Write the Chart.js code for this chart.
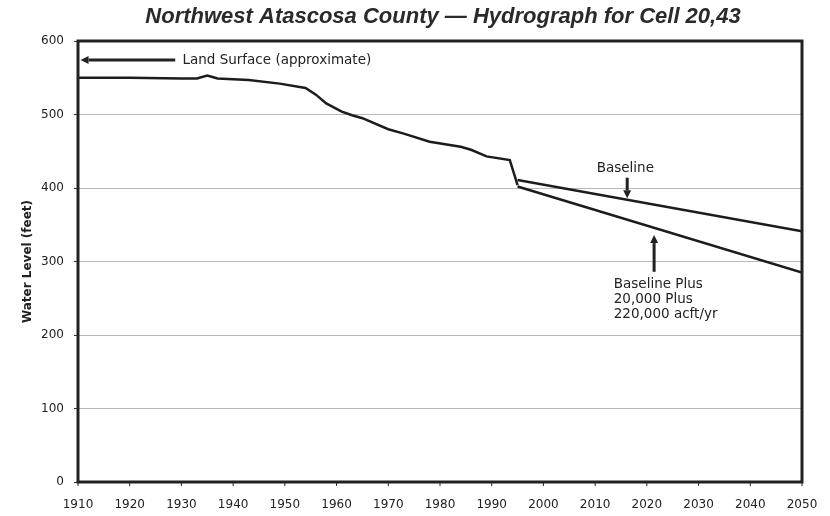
<!DOCTYPE html>
<html>
<head>
<meta charset="utf-8">
<script src="https://cdn.jsdelivr.net/npm/chart.js@4.4.1/dist/chart.umd.min.js"></script>
<style>
  html, body { margin: 0; padding: 0; background: #fff; }
  #wrap { width: 830px; height: 516px; }
</style>
</head>
<body>
<div id="wrap"><canvas id="hydro"></canvas></div>
<script>
// historical simulated water level
const histYears  = [1910, 1920, 1930, 1933, 1935, 1937, 1943, 1949, 1954, 1956, 1958, 1961, 1963, 1965, 1970, 1973, 1978, 1984, 1986, 1989, 1993.5, 1995];
const histLevels = [550, 550, 549, 549, 553, 549, 547, 542, 536, 527, 515, 504, 499, 495, 480, 474, 463, 456, 452, 443, 438, 404];

// projections
const futureYears  = [1995, 2050];
const baseline     = [411, 341];
const baselinePlus = [402, 285];

const yTicks = [0, 100, 200, 300, 400, 500, 600];
const xTicks = [1910, 1920, 1930, 1940, 1950, 1960, 1970, 1980, 1990, 2000, 2010, 2020, 2030, 2040, 2050];

const titleText = 'Northwest Atascosa County \u2014 Hydrograph for Cell 20,43';

const toPts = (xs, ys) => xs.map((x, i) => ({ x: x, y: ys[i] }));

// notes drawn over the plot, placed in data units
const notes = [
    { text: ['Land Surface (approximate)'], x: 1930.2, y: 574, arrow: [1928.8, 574, 1910.5, 574] },
    { text: ['Baseline'], x: 2010.3, y: 427, arrow: [2016.2, 414, 2016.2, 386] },
    { text: ['Baseline Plus', '20,000 Plus', '220,000 acft/yr'], x: 2013.6, y: 269, arrow: [2021.4, 286, 2021.4, 336] }
];

function arrow(ctx, x1, y1, x2, y2) {
    const a = Math.atan2(y2 - y1, x2 - x1);
    const hl = 8, hw = 4;
    ctx.beginPath();
    ctx.moveTo(x1, y1);
    ctx.lineTo(x2 - Math.cos(a) * hl, y2 - Math.sin(a) * hl);
    ctx.stroke();
    ctx.beginPath();
    ctx.moveTo(x2, y2);
    ctx.lineTo(x2 - Math.cos(a) * hl - Math.sin(a) * hw, y2 - Math.sin(a) * hl + Math.cos(a) * hw);
    ctx.lineTo(x2 - Math.cos(a) * hl + Math.sin(a) * hw, y2 - Math.sin(a) * hl - Math.cos(a) * hw);
    ctx.closePath();
    ctx.fill();
}

const extras = {
    id: 'extras',
    afterDatasetsDraw(chart) {
        const ctx = chart.ctx;
        const xs = chart.scales.x, ys = chart.scales.y;
        const a = chart.chartArea;
        ctx.save();
        ctx.strokeStyle = '#222';
        ctx.fillStyle = '#222';
        ctx.lineWidth = 3;
        ctx.strokeRect(a.left, a.top, a.right - a.left, a.bottom - a.top);

        // x tick marks on the bottom axis
        ctx.lineWidth = 1;
        xTicks.forEach(v => {
            const px = xs.getPixelForValue(v);
            ctx.beginPath();
            ctx.moveTo(px, a.bottom);
            ctx.lineTo(px, a.bottom + 4);
            ctx.stroke();
        });

        // title
        ctx.font = 'italic bold 22px "Liberation Sans", Arial, sans-serif';
        ctx.textAlign = 'center';
        ctx.textBaseline = 'middle';
        ctx.fillStyle = '#2a2a2a';
        ctx.fillText(titleText, 443, 17);

        ctx.fillStyle = '#222';
        ctx.font = '13.5px "DejaVu Sans", sans-serif';
        ctx.textAlign = 'left';
        notes.forEach(n => {
            n.text.forEach((t, i) => {
                ctx.fillText(t, xs.getPixelForValue(n.x), ys.getPixelForValue(n.y) + i * 15);
            });
            ctx.lineWidth = 3;
            arrow(ctx, xs.getPixelForValue(n.arrow[0]), ys.getPixelForValue(n.arrow[1]),
                       xs.getPixelForValue(n.arrow[2]), ys.getPixelForValue(n.arrow[3]));
        });
        ctx.restore();
    }
};

const lineStyle = { borderColor: '#1c1c1c', borderWidth: 2.5, pointRadius: 0, fill: false, tension: 0 };
const tickFont = { family: '"DejaVu Sans", sans-serif', size: 12 };

new Chart(document.getElementById('hydro'), {
    type: 'line',
    data: {
        datasets: [
            Object.assign({ label: 'Historical', data: toPts(histYears, histLevels) }, lineStyle),
            Object.assign({ label: 'Baseline', data: toPts(futureYears, baseline) }, lineStyle),
            Object.assign({ label: 'Baseline Plus', data: toPts(futureYears, baselinePlus) }, lineStyle)
        ]
    },
    options: {
        responsive: true,
        maintainAspectRatio: false,
        animation: false,
        layout: { padding: { top: 41, right: 28, bottom: 0, left: 0 } },
        plugins: {
            legend: { display: false },
            tooltip: { enabled: false },
            title: { display: false }
        },
        scales: {
            x: {
                type: 'linear',
                min: 1910,
                max: 2050,
                afterBuildTicks: s => { s.ticks = xTicks.map(v => ({ value: v })); },
                afterFit: s => { s.height = 34; },
                grid: { display: false, drawTicks: true, tickLength: 4 },
                border: { display: false },
                ticks: {
                    color: '#222',
                    padding: 12,
                    maxRotation: 0,
                    autoSkip: false,
                    font: tickFont,
                    callback: v => String(v)
                }
            },
            y: {
                min: 0,
                max: 600,
                afterBuildTicks: s => { s.ticks = yTicks.map(v => ({ value: v })); },
                afterFit: s => { s.width = 78; },
                grid: { color: '#b8b8b8', lineWidth: 1, tickLength: 4, tickColor: '#333' },
                border: { display: false },
                title: {
                    display: true,
                    text: 'Water Level (feet)',
                    color: '#222',
                    font: { family: '"DejaVu Sans", sans-serif', size: 12, weight: 'bold' },
                    padding: { top: 21, bottom: 0 }
                },
                ticks: {
                    color: '#222',
                    padding: 10,
                    font: tickFont
                }
            }
        }
    },
    plugins: [extras]
});
</script>
</body>
</html>
